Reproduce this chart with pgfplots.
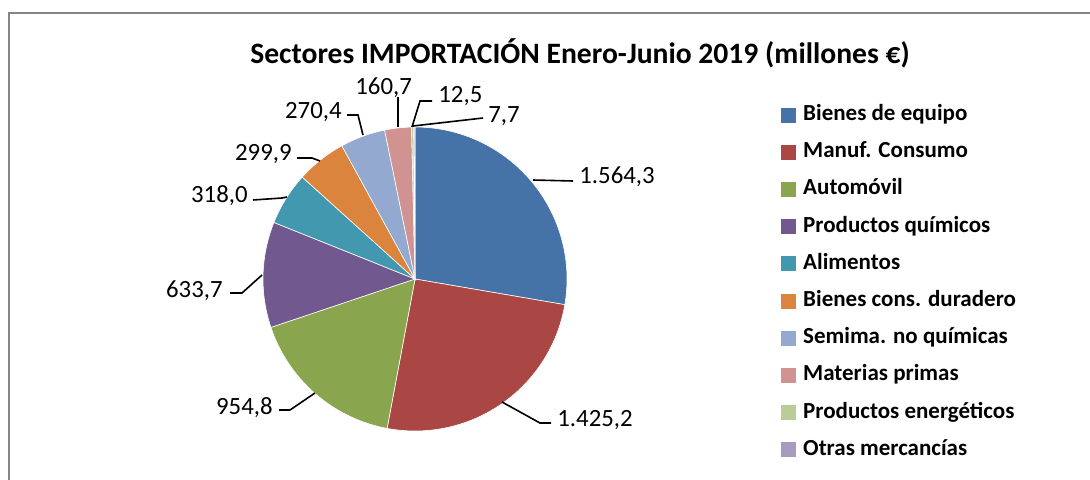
\documentclass[border=0pt]{standalone}
\usepackage{pgfplots}
\pgfplotsset{compat=1.18}
\usepackage{pgfplotstable}
\usepackage{fontspec}
\setmainfont{Carlito}
\definecolor{slice0}{HTML}{4572A7}
\definecolor{slice1}{HTML}{AA4643}
\definecolor{slice2}{HTML}{89A54E}
\definecolor{slice3}{HTML}{71588F}
\definecolor{slice4}{HTML}{4198AF}
\definecolor{slice5}{HTML}{DB843D}
\definecolor{slice6}{HTML}{93A9CF}
\definecolor{slice7}{HTML}{D19392}
\definecolor{slice8}{HTML}{B9CD96}
\definecolor{slice9}{HTML}{A99BBD}
\definecolor{framegray}{HTML}{868686}
\pgfplotstableread[col sep=comma]{
name,value,lx,ly,anc
Bienes de equipo,1564.3,579,183,base west
Manuf. Consumo,1425.2,557,426,base west
Automóvil,954.8,273,414,base east
Productos químicos,633.7,223,297,base east
Alimentos,318.0,248,202,base east
Bienes cons. duradero,299.9,292,160,base east
Semima. no químicas,270.4,342,118,base east
Materias primas,160.7,355,94,base west
Productos energéticos,12.5,438,102,base west
Otras mercancías,7.7,488,122,base west
}\sectores
\newcommand\labelfont{\fontsize{12.4}{14}\selectfont}
\begin{document}
\def\total{0}%
\pgfplotsforeachungrouped \i in {0,...,9}{%
  \pgfplotstablegetelem{\i}{value}\of\sectores
  \pgfmathsetmacro\total{\total+\pgfplotsretval}%
}%
\begin{tikzpicture}
\begin{axis}[
  scale only axis, width=545pt, height=240pt,
  xmin=0, xmax=1090, ymin=0, ymax=480, y dir=reverse,
  hide axis, clip=false,
  at={(0,0)}, anchor=north west,
  legend style={at={(axis cs:781,105)}, anchor=north west, draw=none, fill=none,
    font=\bfseries\fontsize{11.5}{13}\selectfont, inner sep=0pt,
    row sep=9.1pt,
    nodes={inner sep=0pt, text height=7.5pt, text depth=2pt},
    /tikz/every odd column/.append style={column sep=3.5pt}},
  legend cell align=left,
]
\coordinate (bbTL) at (axis cs:0,0);
\coordinate (bbBR) at (axis cs:1090,480);
\draw[framegray, line width=1pt] (axis cs:9,520) -- (axis cs:9,13) -- (axis cs:1120,13);
\node[font=\bfseries\fontsize{14.8}{17}\selectfont, anchor=base, inner sep=0pt] at (axis cs:580,63) {Sectores IMPORTACIÓN Enero-Junio 2019 (millones €)};
% slices
\def\startang{90}%
\pgfplotsforeachungrouped \i in {0,...,9}{%
  \pgfplotstablegetelem{\i}{value}\of\sectores
  \let\val\pgfplotsretval
  \pgfmathsetmacro\frac{\val/\total}%
  \pgfmathsetmacro\endang{\startang-360*\frac}%
  \edef\cmd{\noexpand\fill[slice\i, draw=white, line width=0.3pt] (axis cs:415,279) -- ++(\startang:76pt) arc[start angle=\startang, end angle=\endang, radius=76pt] -- cycle;}%
  \cmd
  \let\startang\endang
  \pgfplotstablegetelem{\i}{lx}\of\sectores \let\lx\pgfplotsretval
  \pgfplotstablegetelem{\i}{ly}\of\sectores \let\ly\pgfplotsretval
  \pgfplotstablegetelem{\i}{anc}\of\sectores \let\anc\pgfplotsretval
  \edef\cmd{\noexpand\node[anchor=\anc, inner sep=0pt, font=\noexpand\labelfont] at (axis cs:\lx,\ly) {\noexpand\pgfmathprintnumber[fixed,precision=1,fixed zerofill,use comma,1000 sep={.},assume math mode=true]{\val}};}%
  \cmd
  \edef\cmd{\noexpand\addlegendimage{legend image code/.code={\noexpand\fill[slice\i] (0pt,-3.5pt) rectangle (7pt,3.5pt);}}}%
  \cmd
  \pgfplotstablegetelem{\i}{name}\of\sectores
  \addlegendentryexpanded{\pgfplotsretval}
}
% leader lines
\draw[black, line width=0.8pt] (axis cs:533,180) -- (axis cs:573,181);
\draw[black, line width=0.8pt] (axis cs:502,402) -- (axis cs:540,423) -- (axis cs:551,423);
\draw[black, line width=0.8pt] (axis cs:279,410) -- (axis cs:290,410) -- (axis cs:315,393);
\draw[black, line width=0.8pt] (axis cs:230,293) -- (axis cs:242,293) -- (axis cs:262,275);
\draw[black, line width=0.8pt] (axis cs:253,200) -- (axis cs:282,198) -- (axis cs:287,197);
\draw[black, line width=0.8pt] (axis cs:297,158) -- (axis cs:312,158) -- (axis cs:320,161);
\draw[black, line width=0.8pt] (axis cs:347,115) -- (axis cs:358,115) -- (axis cs:363,135);
\draw[black, line width=0.8pt] (axis cs:398,97) -- (axis cs:398,127);
\draw[black, line width=0.8pt] (axis cs:432,101) -- (axis cs:420,101) -- (axis cs:412,127);
\draw[black, line width=0.8pt] (axis cs:413,126) -- (axis cs:483,118);
\end{axis}
\pgfresetboundingbox
\path[use as bounding box] (bbTL) rectangle (bbBR);
\end{tikzpicture}
\end{document}
